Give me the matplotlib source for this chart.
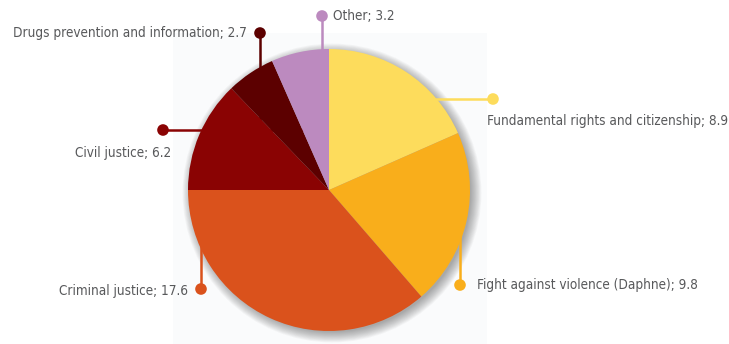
import numpy as np
import matplotlib
matplotlib.use('Agg')
import matplotlib.pyplot as plt
from matplotlib import font_manager
from matplotlib.patches import Circle, Rectangle

# funding by programme, EUR million
labels = ['Fundamental rights and citizenship', 'Fight against violence (Daphne)',
          'Criminal justice', 'Civil justice', 'Drugs prevention and information', 'Other']
values = [8.9, 9.8, 17.6, 6.2, 2.7, 3.2]
colors = ['#fddc5c', '#f9ae1b', '#da521c', '#8a0303', '#5c0000', '#bc8abf']

W, H = 729, 344
CX, CY, R = 329, 190, 141   # pie centre / radius in pixel coords (y down)

# (dot x, dot y, line direction, text x, text y, text alignment)
callouts = [
    (493, 99, 'h', 487, 121, 'left'),
    (460, 285, 'v', 477, 285, 'left'),
    (201, 289, 'v', 188, 291, 'right'),
    (163, 130, 'h', 171, 153, 'right'),
    (260, 33, 'v', 247, 33, 'right'),
    (322, 16, 'v', 333, 16, 'left'),
]

# pick a narrow face if one is around
names = {f.name for f in font_manager.fontManager.ttflist}
condensed = [f for f in font_manager.fontManager.ttflist
             if 'ondensed' in f.fname or 'Narrow' in f.fname or f.stretch in ('condensed', 'semi-condensed')]
font = None
stretch = 'normal'
for f in condensed:
    if f.weight in (400, 'normal', 'regular') and f.style == 'normal':
        font, stretch = f.name, f.stretch
        break
if font is None:
    font = 'Roboto' if 'Roboto' in names else 'DejaVu Sans'
plt.rcParams['font.family'] = [font, 'DejaVu Sans']
plt.rcParams['font.stretch'] = stretch

fig = plt.figure(figsize=(W / 100, H / 100), dpi=100)
ax = fig.add_axes([0, 0, 1, 1])

# faint panel behind the pie
ax.add_patch(Rectangle((173, 33), 314, H - 33, color='#fafbfc', lw=0, zorder=0))

# soft drop shadow
for i in range(14):
    ax.add_patch(Circle((CX + 3, CY + 3), R - 2 + i * 0.8, color='#3a3a3a',
                        alpha=0.035, lw=0, zorder=1))

# with y inverted, counterclock=True runs clockwise on screen
ax.pie(values, colors=colors, startangle=-90, counterclock=True,
       center=(CX, CY), radius=R, frame=True,
       wedgeprops=dict(linewidth=0, zorder=3))
ax.set_xlim(0, W)
ax.set_ylim(H, 0)
ax.set_aspect('equal')
ax.axis('off')

# measure the longest label so the text width follows the original
probe = fig.text(0, 0, 'Drugs prevention and information; 2.7', fontsize=10)
fig.canvas.draw()
wpx = probe.get_window_extent().width
probe.remove()
fsize = 10 * 234 / wpx

for (dx, dy, d, tx, ty, ha), lab, val, c in zip(callouts, labels, values, colors):
    if d == 'h':
        ax.plot([dx, CX], [dy, dy], color=c, lw=1.8, zorder=2, solid_capstyle='butt')
    else:
        ax.plot([dx, dx], [dy, CY], color=c, lw=1.8, zorder=2, solid_capstyle='butt')
    ax.add_patch(Circle((dx, dy), 5.8, color=c, lw=0, zorder=4))
    ax.text(tx, ty, f'{lab}; {val}', ha=ha, va='center', fontsize=fsize,
            color='#58595b', zorder=5)

fig.savefig('out.png', dpi=100)
